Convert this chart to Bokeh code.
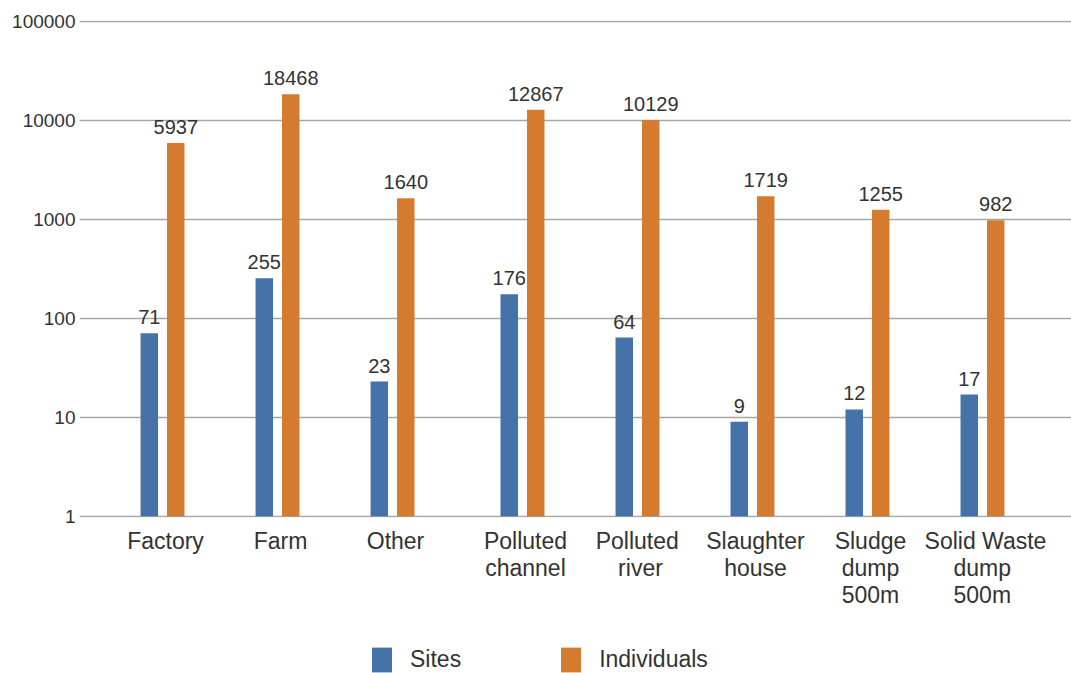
from bokeh.plotting import figure
from bokeh.models import (ColumnDataSource, FactorRange, FixedTicker, NumeralTickFormatter,
                          Legend, LegendItem, CategoricalAxis, Range1d)
from bokeh.layouts import column
from bokeh.transform import dodge
from bokeh.embed import file_html
from bokeh.resources import INLINE

groups = ["A", "A", "A", "B", "B", "B", "B", "B"]
categories = ["Factory", "Farm", "Other", "Polluted channel", "Polluted river",
              "Slaughter house", "Sludge dump 500m", "Solid Waste dump 500m"]
label_line1 = ["Factory", "Farm", "Other", "Polluted", "Polluted ", "Slaughter", "Sludge", "Solid Waste"]
label_line2 = [" ", "  ", "   ", "channel", "river", "house", "dump", "dump "]
label_line3 = [" ", "  ", "   ", "    ", "     ", "      ", "500m", "500m "]
sites = [71, 255, 23, 176, 64, 9, 12, 17]
individuals = [5937, 18468, 1640, 12867, 10129, 1719, 1255, 982]
y_ticks = [1, 10, 100, 1000, 10000, 100000]
series_names = ["Sites", "Individuals"]

FONT = "Liberation Sans"
TEXT = "#333333"
BLUE = "#4472a9"
ORANGE = "#d57b30"
LEFT = 79
PAD = 0.061
GPAD = 0.13


def make_range(names):
    return FactorRange(*list(zip(groups, names)), range_padding=PAD,
                       group_padding=GPAD, factor_padding=0)


src = ColumnDataSource(dict(
    cat=list(zip(groups, categories)), sites=sites, individuals=individuals,
    sites_txt=[str(v) for v in sites], ind_txt=[str(v) for v in individuals],
))

p = figure(width=1071, height=613, x_range=make_range(categories),
           y_axis_type="log", y_range=(0.97, 103000), output_backend="svg",
           toolbar_location=None, x_axis_location=None, min_border_left=LEFT, min_border_top=20,
           min_border_right=0, min_border_bottom=96)
p.outline_line_color = None
p.xgrid.grid_line_color = None
p.ygrid.grid_line_color = "#a6a6a6"
p.ygrid.grid_line_width = 1.5
p.ygrid.ticker = FixedTicker(ticks=y_ticks)

shift = -0.026
off = 0.115
w = 0.152
p.vbar(x=dodge("cat", shift - off, range=p.x_range), top="sites", bottom=1, width=w,
       source=src, fill_color=BLUE, line_color=None)
p.vbar(x=dodge("cat", shift + off, range=p.x_range), top="individuals", bottom=1, width=w,
       source=src, fill_color=ORANGE, line_color=None)

for col, txt, o in (("sites", "sites_txt", shift - off), ("individuals", "ind_txt", shift + off)):
    p.text(x=dodge("cat", o, range=p.x_range), y=col, text=txt,
           source=src, text_align="center", text_baseline="bottom", y_offset=-9,
           text_font_size="20px", text_color=TEXT, text_font={"value": FONT})

ya = p.yaxis[0]
ya.ticker = FixedTicker(ticks=y_ticks, minor_ticks=[])
ya.formatter = NumeralTickFormatter(format="0")
ya.axis_line_color = None
ya.major_tick_line_color = None
ya.minor_tick_line_color = None
ya.major_tick_out = 0
ya.major_tick_in = 0
ya.major_label_text_font = FONT
ya.major_label_text_font_size = "19px"
ya.major_label_text_color = TEXT
ya.major_label_standoff = 4

p.extra_x_ranges = {
    "l1": make_range(label_line1),
    "l2": make_range(label_line2),
    "l3": make_range(label_line3),
}
for name, standoff in (("l1", 10), ("l2", -2), ("l3", -2)):
    ax = CategoricalAxis(x_range_name=name)
    ax.axis_line_color = None
    ax.major_tick_line_color = None
    ax.minor_tick_line_color = None
    ax.major_tick_out = 0
    ax.major_tick_in = 0
    ax.separator_line_color = None
    ax.group_text_font_size = "0px"
    ax.group_text_color = None
    ax.major_label_text_font = FONT
    ax.major_label_text_font_size = "23px"
    ax.major_label_text_color = TEXT
    ax.major_label_standoff = standoff
    p.add_layout(ax, "below")

# legend strip
lg = figure(width=1071, height=60, output_backend="svg", toolbar_location=None,
            x_axis_location=None, y_axis_location=None,
            x_range=Range1d(0, 1), y_range=Range1d(0, 1),
            min_border_left=0, min_border_right=0, min_border_top=0, min_border_bottom=0)
lg.outline_line_color = None
lg.grid.grid_line_color = None
dummy = ColumnDataSource(dict(x=[0], top=[0]))
ra = lg.vbar(x="x", top="top", bottom=0, width=0, source=dummy, fill_color=BLUE, line_color=None)
rb = lg.vbar(x="x", top="top", bottom=0, width=0, source=dummy, fill_color=ORANGE, line_color=None)
legend = Legend(items=[LegendItem(label=series_names[0], renderers=[ra]),
                       LegendItem(label=series_names[1], renderers=[rb])],
                orientation="horizontal", location=(370 - LEFT - 1, -2),
                label_text_font=FONT, label_text_font_size="23px", label_text_color=TEXT,
                glyph_width=25, glyph_height=31, spacing=97, label_standoff=16,
                border_line_color=None, background_fill_alpha=0, margin=0, padding=0)
lg.add_layout(legend)

open("out.html", "w").write(file_html(column(p, lg, spacing=0), INLINE))
